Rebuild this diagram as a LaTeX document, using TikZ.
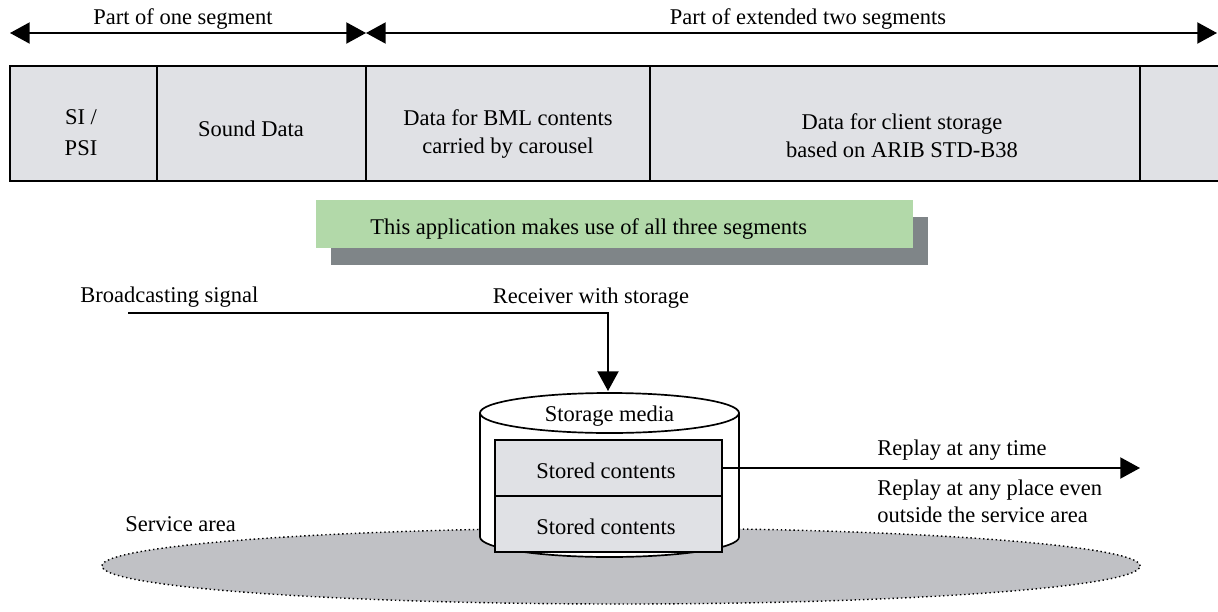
\documentclass[tikz,border=0pt]{standalone}
\usepackage{fontspec}
\setmainfont{Liberation Serif}
\usetikzlibrary{arrows.meta}
\definecolor{cellgray}{HTML}{E0E1E5}
\definecolor{areagray}{HTML}{C0C1C5}
\definecolor{appgreen}{HTML}{B2D9A9}
\definecolor{shadowgray}{HTML}{7F8588}
\tikzset{
  cell/.style={draw=black, line width=1.2pt, fill=cellgray, minimum height=2.875cm, inner sep=0pt},
  celltext/.style={align=center, inner sep=0pt},
  plain/.style={anchor=west, inner xsep=0pt},
  span/.style={line width=1.2pt, {Triangle[length=14pt,width=15pt]}-{Triangle[length=14pt,width=15pt]}},
  flow/.style={line width=1.2pt, -{Triangle[length=14pt,width=15pt]}}
}
\begin{document}
\begin{tikzpicture}[x=0.025cm, y=-0.025cm, font=\fontsize{16}{19}\selectfont]
    \useasboundingbox (0,0) rectangle (1218,612);

    % Draw segment spans
    \coordinate (spanA) at (10,33);
    \coordinate (spanB) at (366,33);
    \coordinate (spanC) at (1217,33);
    \draw[span] (spanA) -- (spanB);
    \draw[span] (spanB) -- (spanC);
    \node (oneseg) at (183,19) {Part of one segment};
    \node (twoseg) at (808,19) {Part of extended two segments};

    % Draw segment cells
    \node[cell, minimum width=3.675cm] (sipsi) at (83.5,123.5) {};
    \node[cell, minimum width=5.225cm] (sound) at (261.5,123.5) {};
    \node[cell, minimum width=7.1cm] (bml) at (508,123.5) {};
    \node[cell, minimum width=12.25cm] (client) at (895,123.5) {};
    \begin{scope}
        \clip (0,0) rectangle (1218,612);
        \node[cell, minimum width=3cm] (rest) at (1200,123.5) {};
    \end{scope}
    \node[celltext] (sipsitxt) at (81,133) {SI /\\[3pt]PSI};
    \node[celltext] (soundtxt) at (251,129) {Sound Data};
    \node[celltext] (bmltxt) at (508,134) {Data for BML contents\\[1pt]carried by carousel};
    \node[celltext] (clienttxt) at (902,136) {Data for client storage\\[1pt]based on ARIB STD-B38};

    % Application banner with shadow
    \node[fill=shadowgray, minimum width=14.925cm, minimum height=1.2cm] (appshadow) at (629.5,241) {};
    \node[fill=appgreen, minimum width=14.925cm, minimum height=1.2cm] (app) at (614.5,224) {};
    \node[plain] (apptxt) at (370,229) {This application makes use of all three segments};

    % Service area
    \draw[dotted, line width=1pt, fill=areagray] (621,566) ellipse [x radius=12.975cm, y radius=0.95cm];
    \node[plain] (area) at (125,524) {Service area};

    % Broadcasting signal into receiver
    \node[plain] (bsig) at (80,297) {Broadcasting signal};
    \node (recv) at (591,298) {Receiver with storage};
    \coordinate (bstart) at (128,313);
    \coordinate (cyltop) at (608,391);
    \draw[flow] (bstart) -| (cyltop);

    % Storage media cylinder
    \filldraw[fill=white, line width=1.2pt] (480,413) -- (480,537) arc[start angle=180, end angle=360, x radius=3.2375cm, y radius=0.5cm] -- (739,413);
    \draw[fill=white, line width=1.2pt] (609.5,413) ellipse [x radius=3.2375cm, y radius=0.5cm];
    \node (media) at (609.5,416) {Storage media};
    \node[cell, minimum width=5.675cm, minimum height=1.4cm] (stored1) at (608.5,468) {};
    \node[cell, minimum width=5.675cm, minimum height=1.4cm] (stored2) at (608.5,524) {};
    \node (stored1txt) at (606,471) {Stored contents};
    \node (stored2txt) at (606,527) {Stored contents};

    % Replay
    \coordinate (replay) at (1140,468);
    \draw[flow] (stored1.east) -- (replay);
    \node[plain] (rtime) at (877,450) {Replay at any time};
    \node[plain, align=left] (rplace) at (877,501) {Replay at any place even\\outside the service area};
\end{tikzpicture}
\end{document}
